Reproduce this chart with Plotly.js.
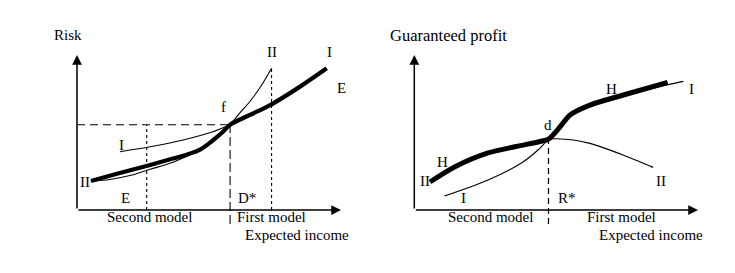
<!DOCTYPE html>
<html>
<head>
<meta charset="utf-8">
<script src="https://cdn.plot.ly/plotly-3.0.1.min.js"></script>
<style>html,body{margin:0;padding:0;background:#fff;}#chart{width:735px;height:273px;}</style>
</head>
<body>
<div id="chart"></div>
<script>
// ---------- data (chart units: both axes run 0..10 up to the arrow tips) ----------
// Left panel: Risk vs Expected income
const riskThickX = [0.53, 1.55, 2.77, 3.6, 4.2, 4.66, 5.15, 5.53, 5.8, 6.55, 7.37, 8.45, 9.46];
const riskThickY = [1.87, 2.35, 2.9, 3.3, 3.6, 3.9, 4.5, 5.05, 5.5, 6.13, 6.82, 7.96, 9.14];
const riskIX = [1.63, 2.77, 4.02, 5.15, 5.8];
const riskIY = [3.76, 4.08, 4.52, 5.05, 5.5];
const riskIIX = [0.53, 1.25, 2.0, 2.77, 3.52, 4.2, 4.66, 5.15, 5.53, 5.8, 6.17, 6.55, 6.97, 7.37];
const riskIIY = [1.87, 1.97, 2.22, 2.63, 3.01, 3.5, 3.9, 4.5, 5.05, 5.5, 6.26, 7.0, 8.0, 9.15];
const pointF = [5.8, 5.5];
const incomeE = 2.64;
const incomeII = 7.37;
const riskIITop = 9.15;

// Right panel: Guaranteed profit vs Expected income
const profitHX = [0.553, 1.435, 2.60, 3.55, 4.43, 4.73, 5.14, 5.49, 6.19, 7.37, 8.93];
const profitHY = [1.806, 2.79, 3.68, 4.08, 4.42, 4.58, 5.37, 6.13, 6.77, 7.42, 8.23];
const profitIX = [1.06, 2.60, 3.79, 4.36, 4.73, 5.14, 5.49, 6.19, 7.37, 8.93, 9.48];
const profitIY = [0.90, 1.94, 3.05, 3.87, 4.58, 5.3, 6.05, 6.68, 7.32, 8.08, 8.3];
const profitIIX = [4.73, 5.02, 5.60, 6.19, 7.36, 8.42];
const profitIIY = [4.58, 4.60, 4.52, 4.30, 3.55, 2.75];
const pointD = [4.73, 4.58];

// ---------- geometry helpers (pixel layout of the 735x273 picture) ----------
const W = 735, H = 273;
function rangeFor(o, s, p0, p1) { return [(p0 - o) / s, (p1 - o) / s]; }
const oyPix = 210, syPix = 15.5;
const yRange = [(oyPix - H) / syPix, oyPix / syPix];
const L = { ox: 77, sx: 26.4, d0: 0, d1: 367 };
const R = { ox: 414.3, sx: 28.37, d0: 368, d1: 735 };

const FONT = 'Liberation Serif, "Times New Roman", Times, serif';
const black = '#000';

function line(x, y, ax, opts) {
  return Object.assign({
    type: 'scatter', mode: 'lines', x: x, y: y,
    xaxis: ax === 2 ? 'x2' : 'x', yaxis: ax === 2 ? 'y2' : 'y',
    hoverinfo: 'skip', showlegend: false, cliponaxis: false,
    line: { color: black, width: 1.2 }
  }, opts);
}

const traces = [
  // left dashed guides
  line([0, pointF[0]], [pointF[1], pointF[1]], 1, { line: { color: black, width: 1.2, dash: '8px,5px' } }),
  line([incomeE, incomeE], [0, pointF[1]], 1, { line: { color: black, width: 1.1, dash: '3px,3px' } }),
  line([pointF[0], pointF[0]], [-0.9, pointF[1]], 1, { line: { color: '#555', width: 1.6, dash: '9px,4px' } }),
  line([incomeII, incomeII], [0, riskIITop], 1, { line: { color: black, width: 1.1, dash: '3px,3px' } }),
  // left curves
  line(riskIIX, riskIIY, 1, { line: { color: black, width: 1.1, shape: 'spline', smoothing: 1 } }),
  line(riskIX, riskIY, 1, { line: { color: black, width: 1.1, shape: 'spline', smoothing: 0.8 } }),
  line(riskThickX, riskThickY, 1, { line: { color: black, width: 4.2, shape: 'spline', smoothing: 1 } }),
  // right dashed guide
  line([pointD[0], pointD[0]], [-0.9, pointD[1]], 2, { line: { color: black, width: 1.2, dash: '6px,4px' } }),
  // right curves
  line(profitIIX, profitIIY, 2, { line: { color: black, width: 1.1, shape: 'spline', smoothing: 0.8 } }),
  line(profitIX, profitIY, 2, { line: { color: black, width: 1.1, shape: 'spline', smoothing: 0.8 } }),
  line(profitHX, profitHY, 2, { line: { color: black, width: 5, shape: 'spline', smoothing: 0.8 } })
];

function txt(t, x, y, ax, extra) {
  return Object.assign({
    text: t, x: x, y: y, xref: ax === 2 ? 'x2' : 'x', yref: ax === 2 ? 'y2' : 'y',
    showarrow: false, font: { family: FONT, size: 15, color: black }
  }, extra || {});
}
function arrow(x, y, ax0, ay0, ax) {
  const xr = ax === 2 ? 'x2' : 'x', yr = ax === 2 ? 'y2' : 'y';
  return { x: x, y: y, ax: ax0, ay: ay0, xref: xr, yref: yr, axref: xr, ayref: yr,
    showarrow: true, arrowhead: 2, arrowsize: 1.3, arrowwidth: 1.5, arrowcolor: black, text: '', standoff: 0 };
}

const annotations = [
  arrow(10, 0, 0, 0, 1), arrow(0, 10, 0, 0, 1),
  arrow(10, 0, 0, 0, 2), arrow(0, 10, 0, 0, 2),
  // left labels
  txt('Risk', -0.34, 11.29, 1),
  txt('II', 0.3, 1.81, 1),
  txt('I', 1.70, 4.19, 1),
  txt('E', 1.82, 0.77, 1),
  txt('D*', 6.44, 0.77, 1),
  txt('f', 5.54, 6.66, 1),
  txt('II', 7.37, 10.17, 1),
  txt('I', 9.55, 10.17, 1),
  txt('E', 10.03, 7.85, 1),
  txt('Second model', 2.73, -0.45, 1),
  txt('First model', 7.35, -0.45, 1),
  txt('Expected income', 8.35, -1.61, 1),
  // right labels
  txt('Guaranteed profit', 1.22, 11.29, 2, { font: { family: FONT, size: 16.5, color: black } }),
  txt('II', 0.36, 1.87, 2),
  txt('H', 0.98, 3.10, 2),
  txt('I', 1.72, 0.77, 2),
  txt('R*', 5.38, 0.77, 2),
  txt('d', 4.72, 5.48, 2),
  txt('H', 6.96, 7.79, 2),
  txt('I', 9.78, 7.79, 2),
  txt('II', 8.70, 1.87, 2),
  txt('Second model', 2.70, -0.45, 2),
  txt('First model', 7.32, -0.45, 2),
  txt('Expected income', 8.35, -1.61, 2)
];

function axis(domainPix, range) {
  return { domain: [domainPix[0] / W, domainPix[1] / W], range: range, visible: false, fixedrange: true };
}

const layout = {
  width: W, height: H,
  margin: { l: 0, r: 0, t: 0, b: 0, pad: 0 },
  paper_bgcolor: '#fff', plot_bgcolor: 'rgba(0,0,0,0)',
  showlegend: false,
  xaxis: axis([L.d0, L.d1], rangeFor(L.ox, L.sx, L.d0, L.d1)),
  yaxis: { domain: [0, 1], range: yRange, visible: false, fixedrange: true },
  xaxis2: axis([R.d0, R.d1], rangeFor(R.ox, R.sx, R.d0, R.d1)),
  yaxis2: { domain: [0, 1], range: yRange, visible: false, fixedrange: true, anchor: 'x2' },
  annotations: annotations
};
layout.xaxis2.anchor = 'y2';

Plotly.newPlot('chart', traces, layout, { staticPlot: true, displayModeBar: false });
</script>
</body>
</html>
